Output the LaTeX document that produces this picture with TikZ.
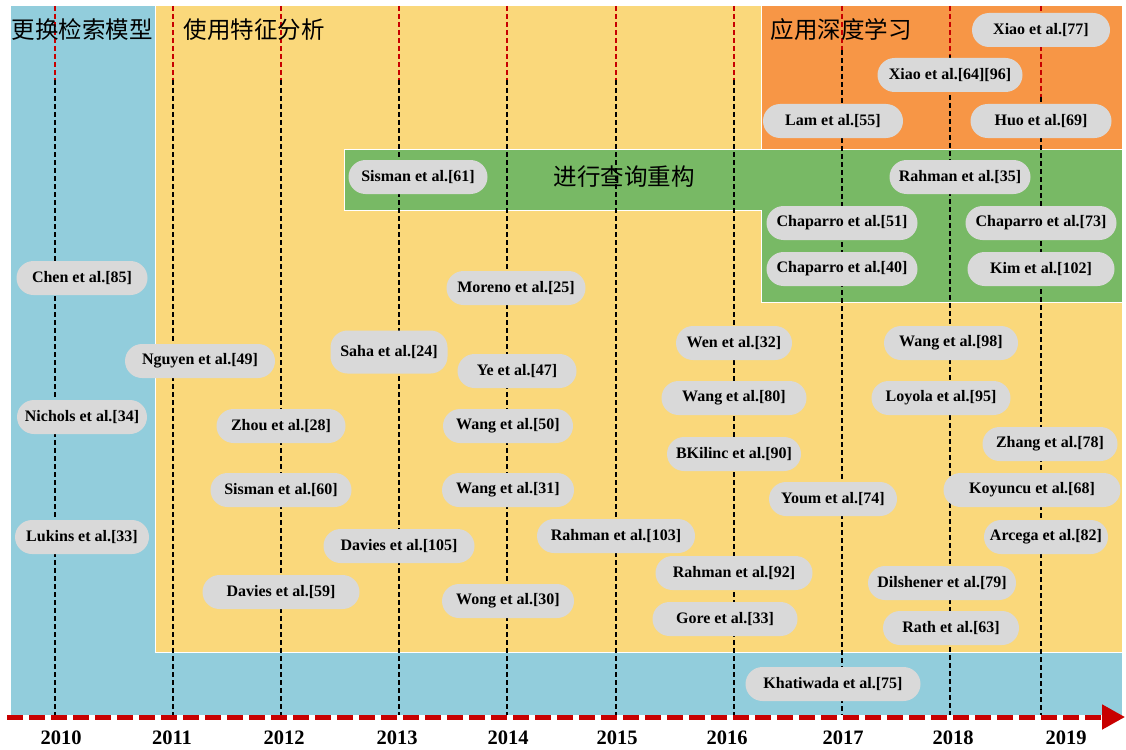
\documentclass[tikz,border=0pt]{standalone}
\usepackage{fontspec}
\setmainfont{Liberation Serif}
\newfontfamily\cjk{Noto Sans CJK SC}
\usetikzlibrary{arrows.meta}
\usepackage{xcolor}
\definecolor{blue}{RGB}{146, 205, 220}
\definecolor{yellow}{RGB}{250, 216, 123}
\definecolor{orange}{RGB}{247, 150, 70}
\definecolor{green}{RGB}{120, 185, 101}
\definecolor{gray}{RGB}{217, 217, 217}
\definecolor{red}{RGB}{200, 0, 0}

\begin{document}
\begin{tikzpicture}[
        x=1pt, y=-1pt,
        region/.style={draw=white, line width=1pt},
        paper/.style={
            rectangle,
            rounded corners=17pt,
            fill=gray,
            minimum height=34pt,
            inner sep=0pt,
            font=\fontsize{16}{18}\selectfont\bfseries
        },
        phase/.style={font=\cjk\fontsize{23.5}{26}\selectfont},
        year/.style={font=\fontsize{20.5}{22}\selectfont\bfseries},
        yearline/.style={line width=1.5pt, dash pattern=on 5pt off 3pt},
        axis/.style={
            red,
            line width=5pt,
            dash pattern=on 16pt off 6pt,
            -{Triangle[length=23pt, width=24pt]}
        }
    ]
        \useasboundingbox (0,0) rectangle (1126,749);

        \fill[blue] (11,6) rectangle (1122,715);
        \filldraw[region, fill=yellow] (155,6) rectangle (1122,652);
        \filldraw[region, fill=orange] (761,6) rectangle (1122,149);
        \filldraw[region, fill=green] (344,149) -- (1122,149) -- (1122,302)
            -- (761,302) -- (761,210) -- (344,210) -- cycle;

        \foreach \x/\r in {55/80, 173/80, 281/80, 399/80, 507/80, 616/80,
                           734/80, 842/50, 950/55, 1041/97} {
            \draw[yearline, red] (\x,6) -- (\x,\r);
            \draw[yearline, black] (\x,\r) -- (\x,715);
        }

        \node (t1) [phase] at (82,30) {更换检索模型};
        \node (t2) [phase] at (254,30) {使用特征分析};
        \node (t3) [phase] at (624,177) {进行查询重构};
        \node (t4) [phase] at (841,30) {应用深度学习};

        \node (1) [paper, minimum width=131pt] at (82,278) {Chen et al.[85]};
        \node (2) [paper, minimum width=130pt] at (82,417) {Nichols et al.[34]};
        \node (3) [paper, minimum width=134pt] at (82,537) {Lukins et al.[33]};
        \node (4) [paper, minimum width=150pt] at (200,361) {Nguyen et al.[49]};
        \node (5) [paper, minimum width=129pt] at (281,426) {Zhou et al.[28]};
        \node (6) [paper, minimum width=141pt] at (281,490) {Sisman et al.[60]};
        \node (7) [paper, minimum width=157pt] at (281,592) {Davies et al.[59]};
        \node (8) [paper, minimum width=117pt, minimum height=43pt] at (389,352) {Saha et al.[24]};
        \node (9) [paper, minimum width=151pt] at (399,546) {Davies et al.[105]};
        \node (10) [paper, minimum width=139pt] at (418,177) {Sisman et al.[61]};
        \node (11) [paper, minimum width=139pt] at (516,288) {Moreno et al.[25]};
        \node (12) [paper, minimum width=119pt] at (517,371) {Ye et al.[47]};
        \node (13) [paper, minimum width=130pt] at (508,426) {Wang et al.[50]};
        \node (14) [paper, minimum width=132pt] at (508,490) {Wang et al.[31]};
        \node (15) [paper, minimum width=132pt] at (508,601) {Wong et al.[30]};
        \node (16) [paper, minimum width=158pt] at (616,536) {Rahman et al.[103]};
        \node (17) [paper, minimum width=116pt] at (734,343) {Wen et al.[32]};
        \node (18) [paper, minimum width=145pt] at (734,398) {Wang et al.[80]};
        \node (19) [paper, minimum width=134pt] at (734,454) {BKilinc et al.[90]};
        \node (20) [paper, minimum width=157pt] at (734,573) {Rahman et al.[92]};
        \node (21) [paper, minimum width=145pt] at (725,619) {Gore et al.[33]};
        \node (22) [paper, minimum width=128pt] at (833,499) {Youm et al.[74]};
        \node (23) [paper, minimum width=175pt] at (833,684) {Khatiwada et al.[75]};
        \node (24) [paper, minimum width=140pt] at (833,121) {Lam et al.[55]};
        \node (25) [paper, minimum width=151pt] at (842,223) {Chaparro et al.[51]};
        \node (26) [paper, minimum width=151pt] at (842,269) {Chaparro et al.[40]};
        \node (27) [paper, minimum width=145pt] at (950,75) {Xiao et al.[64][96]};
        \node (28) [paper, minimum width=141pt] at (960,177) {Rahman et al.[35]};
        \node (29) [paper, minimum width=134pt] at (951,343) {Wang et al.[98]};
        \node (30) [paper, minimum width=139pt] at (941,398) {Loyola et al.[95]};
        \node (31) [paper, minimum width=148pt] at (942,583) {Dilshener et al.[79]};
        \node (32) [paper, minimum width=136pt] at (951,628) {Rath et al.[63]};
        \node (33) [paper, minimum width=138pt] at (1041,30) {Xiao et al.[77]};
        \node (34) [paper, minimum width=141pt] at (1041,121) {Huo et al.[69]};
        \node (35) [paper, minimum width=151pt] at (1041,223) {Chaparro et al.[73]};
        \node (36) [paper, minimum width=147pt] at (1041,269) {Kim et al.[102]};
        \node (37) [paper, minimum width=135pt] at (1050,444) {Zhang et al.[78]};
        \node (38) [paper, minimum width=177pt] at (1032,490) {Koyuncu et al.[68]};
        \node (39) [paper, minimum width=124pt] at (1046,537) {Arcega et al.[82]};

        \coordinate (start) at (7,717);
        \coordinate (end) at (1125,717);
        \draw[axis] (start) -- (end);

        \node (2010) [year] at (61,738) {2010};
        \node (2011) [year] at (172,738) {2011};
        \node (2012) [year] at (284,738) {2012};
        \node (2013) [year] at (397,738) {2013};
        \node (2014) [year] at (508,738) {2014};
        \node (2015) [year] at (617,738) {2015};
        \node (2016) [year] at (727,738) {2016};
        \node (2017) [year] at (843,738) {2017};
        \node (2018) [year] at (953,738) {2018};
        \node (2019) [year] at (1066,738) {2019};
    \end{tikzpicture}
\end{document}
